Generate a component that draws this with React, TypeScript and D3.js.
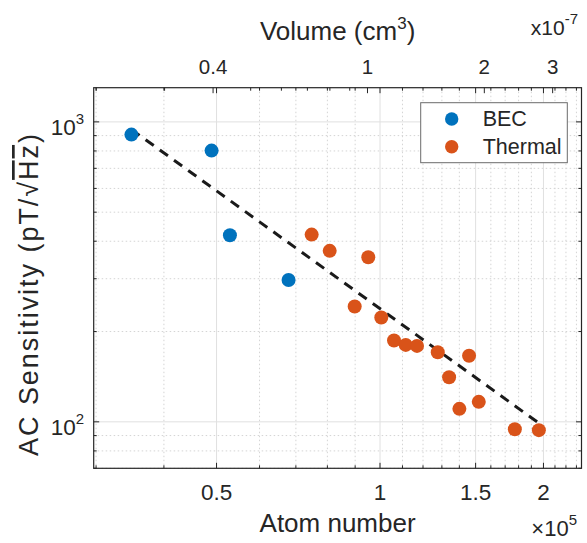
import * as d3 from "d3"

// atom number (x1e5) and AC sensitivity (pT/sqrt(Hz))
const becAtoms = [0.3485, 0.4896, 0.5292, 0.6786]
const becSens = [907, 802, 419, 297]
const thermalAtoms = [0.7484, 0.8079, 0.9515, 0.8982, 1.0055, 1.0612, 1.1153, 1.17, 1.2775, 1.4589, 1.3404, 1.4002, 1.5202, 1.7714, 1.9613]
const thermalSens = [421, 371.5, 353.8, 242.3, 222.7, 186.6, 180.5, 179.1, 170.6, 166, 140.8, 110.5, 116.6, 94.5, 93.8]
// power-law fit  S = fitAmp * N^fitExp
const fitAmp = 238.4
const fitExp = -1.3046

const atomLabelTicks = [0.5, 1, 1.5, 2]
const atomMinorTicks = [0.3, 0.4, 0.6, 0.7, 0.8, 0.9, 1.1, 1.2, 1.3, 1.4, 1.6, 1.7, 1.8, 1.9, 2.1, 2.2, 2.3]
const volumeLabelTicks = [0.4, 1, 2, 3]
const volumeMinorTicks = [0.2, 0.3, 0.5, 0.6, 0.7, 0.8, 0.9]
const sensMajorTicks = [100, 1000]
const sensMinorTicks = [70, 80, 90, 200, 300, 400, 500, 600, 700, 800, 900]

const W = 587
const H = 543
const left = 93.7
const right = 581.5
const top = 87.7
const bottom = 468.3
const blue = "#0072BD"
const orange = "#D95319"
const ink = "#262626"
const font = "'Liberation Sans', Arial, Helvetica, sans-serif"

const App = () => {
    const x = d3.scaleLog().domain([0.297, 2.35]).range([left, right])
    const xv = d3.scaleLog().domain([0.197, 3.56]).range([left, right])
    const y = d3.scaleLog().domain([70, 1300]).range([bottom, top])

    const allAtoms = becAtoms.concat(thermalAtoms)
    const [n0, n1] = d3.extent(allAtoms) as [number, number]
    const fitLine = d3.line<number>()
        .x(d => x(d))
        .y(d => y(fitAmp * Math.pow(d, fitExp)))

    const major = 5.5
    const minor = 3

    return (
        <svg width={W} height={H} style={{ position: "absolute", left: 0, top: 0, background: "#fff" }} fontFamily={font}>
            <rect x={0} y={0} width={W} height={H} fill="#fff" />

            {/* grid */}
            {atomMinorTicks.map(t => (
                <line key={"gx" + t} x1={x(t)} x2={x(t)} y1={top} y2={bottom} stroke="#d4d4d4" strokeDasharray="1.5 2.5" />
            ))}
            {sensMinorTicks.map(t => (
                <line key={"gy" + t} x1={left} x2={right} y1={y(t)} y2={y(t)} stroke="#d4d4d4" strokeDasharray="1.5 2.5" />
            ))}
            {atomLabelTicks.map(t => (
                <line key={"Gx" + t} x1={x(t)} x2={x(t)} y1={top} y2={bottom} stroke="#e0e0e0" />
            ))}
            {sensMajorTicks.map(t => (
                <line key={"Gy" + t} x1={left} x2={right} y1={y(t)} y2={y(t)} stroke="#e0e0e0" />
            ))}

            {/* fit */}
            <path d={fitLine([n0, n1]) || ""} fill="none" stroke="#1a1a1a" strokeWidth={3} strokeDasharray="10 7.5" />

            {/* points */}
            {becAtoms.map((n, i) => (
                <circle key={"b" + i} cx={x(n)} cy={y(becSens[i])} r={7} fill={blue} />
            ))}
            {thermalAtoms.map((n, i) => (
                <circle key={"t" + i} cx={x(n)} cy={y(thermalSens[i])} r={7} fill={orange} />
            ))}

            {/* box and ticks */}
            <rect x={left} y={top} width={right - left} height={bottom - top} fill="none" stroke={ink} strokeWidth={1.2} />
            {atomLabelTicks.concat(atomMinorTicks).map(t => {
                const len = atomLabelTicks.includes(t) ? major : minor
                return (
                    <g key={"tx" + t} stroke={ink}>
                        <line x1={x(t)} x2={x(t)} y1={bottom} y2={bottom - len} />
                        <line x1={x(t)} x2={x(t)} y1={top} y2={top + len} />
                    </g>
                )
            })}
            {volumeLabelTicks.concat(volumeMinorTicks).map(t => {
                const len = volumeLabelTicks.includes(t) ? major : minor
                return <line key={"tv" + t} x1={xv(t)} x2={xv(t)} y1={top} y2={top + len} stroke={ink} />
            })}
            {sensMajorTicks.concat(sensMinorTicks).map(t => {
                const len = sensMajorTicks.includes(t) ? major : minor
                return (
                    <g key={"ty" + t} stroke={ink}>
                        <line x1={left} x2={left + len} y1={y(t)} y2={y(t)} />
                        <line x1={right} x2={right - len} y1={y(t)} y2={y(t)} />
                    </g>
                )
            })}

            {/* tick labels */}
            {atomLabelTicks.map(t => (
                <text key={"lx" + t} x={x(t)} y={500} textAnchor="middle" fontSize={22.5} fill={ink}>{t}</text>
            ))}
            {volumeLabelTicks.map(t => (
                <text key={"lv" + t} x={xv(t)} y={74} textAnchor="middle" fontSize={20.5} fill={ink}>{t}</text>
            ))}
            {sensMajorTicks.map(t => (
                <text key={"ly" + t} x={84} y={y(t) + 13.2} textAnchor="end" fontSize={22.5} fill={ink}>
                    10<tspan fontSize={15} dy={-11}>{Math.round(Math.log10(t))}</tspan>
                </text>
            ))}

            {/* axis titles */}
            <text x={(left + right) / 2} y={532} textAnchor="middle" fontSize={26} fill={ink}>Atom number</text>
            <text x={577} y={536} textAnchor="end" fontSize={22} fill={ink}>
                ×10<tspan fontSize={15} dy={-11}>5</tspan>
            </text>
            <text x={(left + right) / 2} y={40} textAnchor="middle" fontSize={26} fill={ink}>
                Volume (cm<tspan fontSize={17} dy={-11}>3</tspan><tspan dy={11}>)</tspan>
            </text>
            <text x={578} y={35} textAnchor="end" fontSize={21} fill={ink}>
                x10<tspan fontSize={15} dy={-11}>-7</tspan>
            </text>
            <text transform={`translate(38,${295}) rotate(-90)`} textAnchor="middle" fontSize={27} fill={ink}
                textLength={322} lengthAdjust="spacing">
                AC Sensitivity (pT/√<tspan style={{ textDecoration: "overline" }}>Hz</tspan>)
            </text>

            {/* legend */}
            <rect x={420.7} y={102.7} width={146.6} height={60} fill="#fff" stroke="#6b6b6b" strokeWidth={1} />
            <circle cx={451.7} cy={119} r={6.7} fill={blue} />
            <circle cx={451.7} cy={146.7} r={6.7} fill={orange} />
            <text x={482.7} y={119} dominantBaseline="central" fontSize={21.5} fill={ink}>BEC</text>
            <text x={482.7} y={146.7} dominantBaseline="central" fontSize={21.5} fill={ink}>Thermal</text>
        </svg>
    )
}

export default App
